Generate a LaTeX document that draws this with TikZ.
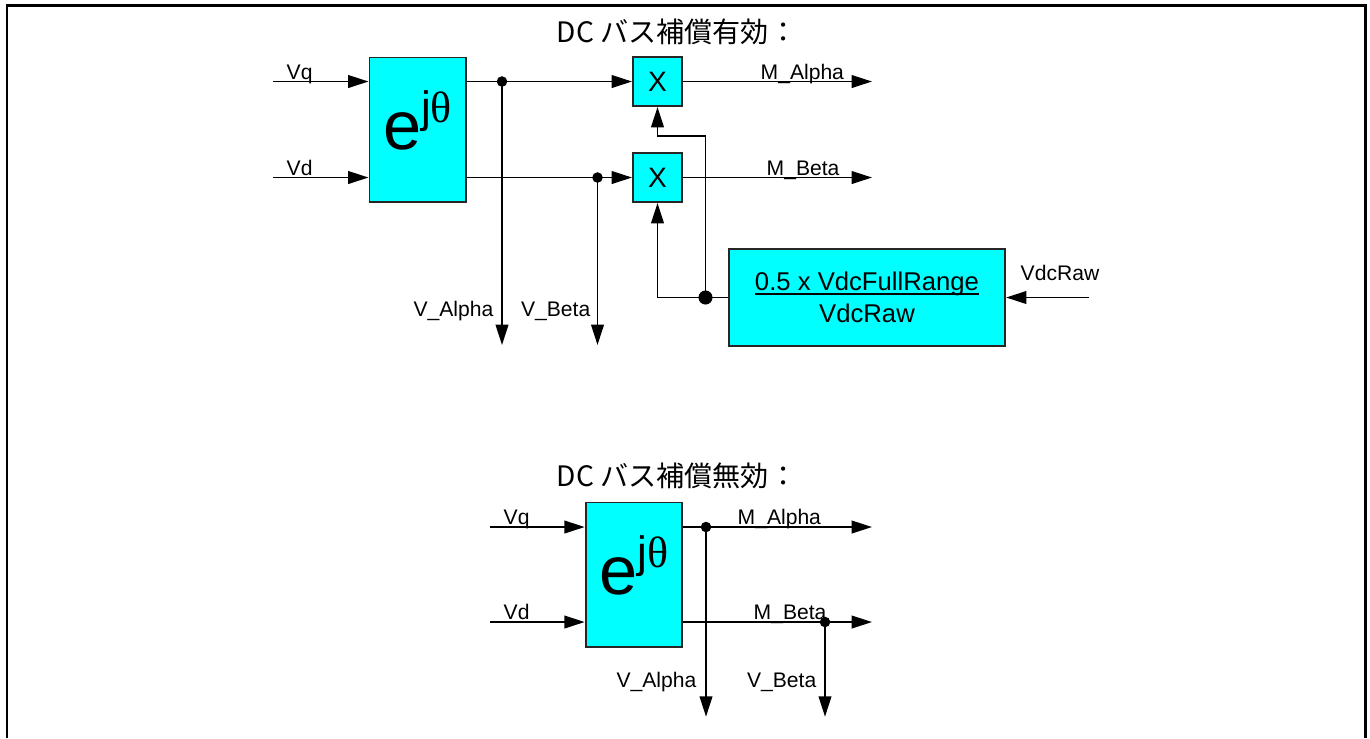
\documentclass[tikz,border=0pt]{standalone}
\usepackage{fontspec}
\setmainfont{Liberation Sans}
\newfontfamily\jpfont{Noto Sans CJK JP}
\newfontfamily\thetafont{Liberation Serif}
\usetikzlibrary{arrows.meta, positioning}

\definecolor{blkcyan}{RGB}{0,255,255}
\newcommand{\ejtheta}{{\fontsize{19.5}{20}\selectfont e}\raisebox{7.8pt}{\fontsize{12.5}{13}\selectfont j{\thetafont θ}}}
\newcommand{\ulin}[1]{\setbox0\hbox{#1}\rlap{\rule[-1.1pt]{\wd0}{0.45pt}}\box0}

\begin{document}
\begin{tikzpicture}[
    x=0.01cm, y=-0.01cm,
    >={Triangle[length=5.8pt, width=3.6pt]},
    sig/.style={->, line width=0.55pt},
    blk/.style={draw=black!85, fill=blkcyan, line width=0.55pt, inner sep=0pt},
    rotblk/.style={blk, minimum width=0.96cm, minimum height=1.44cm, text depth=5.4pt},
    mulblk/.style={blk, minimum width=0.49cm, minimum height=0.49cm, font=\fontsize{8}{9}\selectfont},
    lbl/.style={font=\fontsize{6}{7}\selectfont, inner sep=0pt},
    ttl/.style={font=\jpfont\fontsize{8}{10}\selectfont, inner sep=0pt, anchor=west}
]
    \useasboundingbox (0,0) rectangle (1370,738);
    \draw[line width=0.85pt] (7,738) -- (7,5) -- (1365,5) -- (1365,738);

    % DC bus compensation on
    \node[ttl] (ttl1) at (556,32) {DC バス補償有効：};
    \node[rotblk] (rot1) at (417.5,129.5) {\ejtheta};
    \node[mulblk] (mula) at (657.5,81.5) {X};
    \node[mulblk] (mulb) at (657.5,177.5) {X};
    \node[blk, minimum width=2.76cm, minimum height=0.97cm, align=center,
          font=\fontsize{7.3}{9.1}\selectfont] (gain) at (867,297.5)
          {\ulin{0.5 x VdcFullRange}\\VdcRaw};

    \coordinate (vq1) at (273,81.5);
    \coordinate (vd1) at (273,177.5);
    \coordinate (ja1) at (502,81.5);
    \coordinate (jb1) at (597.5,177.5);
    \coordinate (va1) at (502,345);
    \coordinate (vb1) at (597.5,345);
    \coordinate (ma1) at (872,81.5);
    \coordinate (mb1) at (872,177.5);
    \coordinate (vin) at (1089,297.5);
    \coordinate (jc) at (705.5,297.5);
    \coordinate (kn) at (705.5,136);

    \draw[sig] (vq1) -- (vq1 -| rot1.west);
    \draw[sig] (vd1) -- (vd1 -| rot1.west);
    \draw[sig] (rot1.east |- mula) -- (mula.west);
    \draw[sig] (rot1.east |- mulb) -- (mulb.west);
    \draw[sig] (ja1) -- (va1);
    \draw[sig] (jb1) -- (vb1);
    \draw[sig] (mula.east) -- (ma1);
    \draw[sig] (mulb.east) -- (mb1);
    \draw[sig] (vin) -- (gain.east);
    \draw[sig] (gain.west) -| (mulb.south);
    \draw[sig] (jc) -- (kn) -| (mula.south);
    \fill (ja1) circle[radius=1.5pt];
    \fill (jb1) circle[radius=1.5pt];
    \fill (jc) circle[radius=2pt];

    \node[lbl, anchor=base west] (lvq1) at (286,79) {Vq};
    \node[lbl, anchor=base west] (lvd1) at (286,175) {Vd};
    \node[lbl, anchor=base west] (lma1) at (760,79) {M\_Alpha};
    \node[lbl, anchor=base west] (lmb1) at (766,175) {M\_Beta};
    \node[lbl, anchor=base east] (lva1) at (494,316) {V\_Alpha};
    \node[lbl, anchor=base east] (lvb1) at (591,316) {V\_Beta};
    \node[lbl, anchor=base west] (lvdc) at (1020,280) {VdcRaw};

    % DC bus compensation off
    \node[ttl] (ttl2) at (556,476) {DC バス補償無効：};
    \node[rotblk] (rot2) at (633.7,574.5) {\ejtheta};

    \coordinate (vq2) at (490,527);
    \coordinate (vd2) at (490,622);
    \coordinate (ma2) at (872,527);
    \coordinate (mb2) at (872,622);
    \coordinate (ja2) at (706,527);
    \coordinate (jb2) at (825,622);
    \coordinate (va2) at (706,716.7);
    \coordinate (vb2) at (825,716.7);

    \draw[sig] (vq2) -- (vq2 -| rot2.west);
    \draw[sig] (vd2) -- (vd2 -| rot2.west);
    \draw[sig] (rot2.east |- ma2) -- (ma2);
    \draw[sig] (rot2.east |- mb2) -- (mb2);
    \draw[sig] (ja2) -- (va2);
    \draw[sig] (jb2) -- (vb2);
    \fill (ja2) circle[radius=1.5pt];
    \fill (jb2) circle[radius=1.5pt];

    \node[lbl, anchor=base west] (lvq2) at (503,524) {Vq};
    \node[lbl, anchor=base west] (lvd2) at (503,619) {Vd};
    \node[lbl, anchor=base west] (lma2) at (737,524) {M\_Alpha};
    \node[lbl, anchor=base west] (lmb2) at (753,619) {M\_Beta};
    \node[lbl, anchor=base east] (lva2) at (697,687) {V\_Alpha};
    \node[lbl, anchor=base east] (lvb2) at (817,687) {V\_Beta};
\end{tikzpicture}
\end{document}
